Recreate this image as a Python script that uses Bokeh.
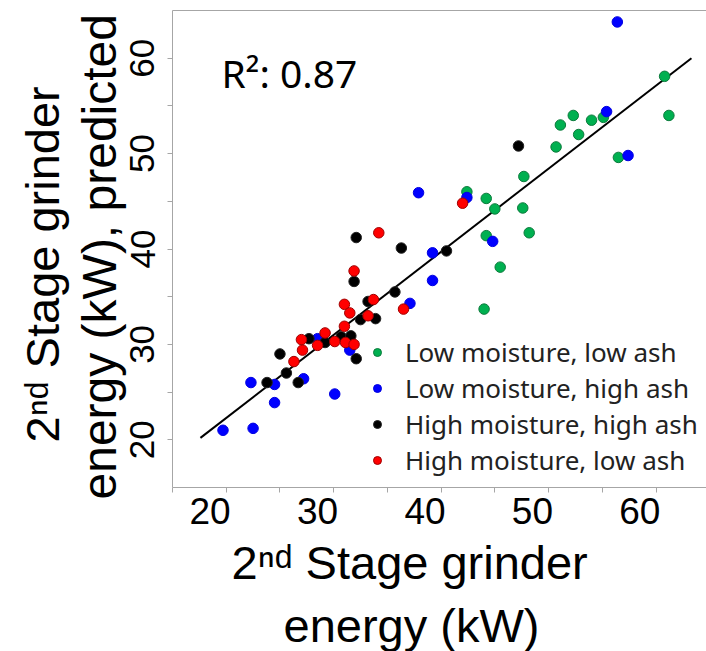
from bokeh.plotting import figure
from bokeh.models import (Range1d, LinearAxis, FixedTicker, Label, Legend, LegendItem, Title)
from bokeh.embed import file_html
from bokeh.resources import INLINE

# ---------------- data ----------------
green_x = [60.8, 61.2, 55.1, 54.0, 52.3, 51.1, 52.8, 50.7, 56.5, 47.7, 42.4, 44.2, 45.0, 47.6, 48.2, 44.2, 45.5, 44.0]
green_y = [58.1, 54.0, 53.8, 53.5, 54.0, 53.0, 52.0, 50.7, 49.6, 47.6, 46.0, 45.3, 44.2, 44.3, 41.7, 41.4, 38.1, 33.7]

blue_x = [56.4, 55.4, 57.4, 37.9, 42.4, 44.8, 39.2, 39.2, 37.1, 31.5, 28.5, 27.2, 22.3, 24.5, 30.1, 24.5, 19.7, 22.5]
blue_y = [63.8, 54.4, 49.8, 45.9, 45.4, 40.8, 39.6, 36.7, 34.3, 29.4, 30.6, 26.4, 26.0, 25.8, 24.8, 23.9, 21.0, 21.2]

black_x = [47.2, 32.1, 36.3, 40.5, 31.9, 35.7, 33.2, 32.5, 33.9, 30.7, 31.6, 29.2, 27.7, 32.1, 25.0, 25.6, 26.7, 23.8]
black_y = [50.8, 41.2, 40.1, 39.8, 36.6, 35.5, 34.5, 32.6, 32.7, 30.8, 30.9, 30.2, 30.6, 28.5, 29.0, 27.0, 26.0, 26.0]

red_x = [42.0, 34.2, 31.9, 33.7, 31.0, 31.5, 36.5, 33.2, 31.0, 29.2, 30.1, 31.1, 31.9, 28.5, 27.0, 27.1, 26.3]
red_y = [44.8, 41.7, 37.7, 34.7, 34.2, 33.3, 33.7, 33.0, 31.9, 31.2, 30.3, 30.2, 30.0, 29.9, 30.5, 29.4, 28.2]

fit_x = [17.6, 63.3]
fit_y = [20.2, 60.0]

series_labels = ["Low moisture, low ash", "Low moisture, high ash",
                 "High moisture, high ash", "High moisture, low ash"]
major_ticks = [20, 30, 40, 50, 60]
x_minor_ticks = [15, 25, 35, 45, 55]
y_minor_ticks = [25, 35, 45, 55]
r2_text = "R²: 0.87"
title_line1 = "2ⁿᵈ Stage grinder"
x_title_line2 = "energy (kW)"
y_title_line2 = "energy (kW), predicted"

# ---------------- figure ----------------
X0, X1 = 15, 64.7
Y0, Y1 = 15, 65
FRAME_L, FRAME_B = 172, 488

p = figure(width=706, height=651, x_range=Range1d(X0, X1), y_range=Range1d(Y0, Y1),
           output_backend="svg", toolbar_location=None,
           min_border_left=FRAME_L, min_border_right=0, min_border_top=10,
           min_border_bottom=651 - FRAME_B)
p.xgrid.visible = False
p.ygrid.visible = False
p.outline_line_color = None
p.background_fill_color = "white"
p.border_fill_color = "white"

AX = "#a6a6a6"
for ax in (p.xaxis[0], p.yaxis[0]):
    ax.axis_line_color = AX
    ax.major_tick_line_color = AX
    ax.minor_tick_line_color = AX
    ax.major_tick_out = 5
    ax.minor_tick_out = 5
    ax.major_tick_in = 0
    ax.minor_tick_in = 0

# bottom axis: tick marks only (all as unlabeled minor ticks); labels come from ax2
p.xaxis[0].ticker = FixedTicker(ticks=[], minor_ticks=sorted(major_ticks + x_minor_ticks))
p.xaxis[0].major_label_standoff = 0

p.yaxis[0].ticker = FixedTicker(ticks=major_ticks, minor_ticks=y_minor_ticks)
p.yaxis[0].major_label_orientation = "vertical"
p.yaxis[0].major_label_text_font = "Liberation Sans"
p.yaxis[0].major_label_text_font_size = "35px"
p.yaxis[0].major_label_text_color = "black"
p.yaxis[0].major_label_standoff = 13

# x tick labels sit slightly left of their ticks in the original
SHIFT = 1.5
p.extra_x_ranges = {"lab": Range1d(X0 + SHIFT, X1 + SHIFT)}
ax2 = LinearAxis(x_range_name="lab", ticker=FixedTicker(ticks=major_ticks),
                 axis_line_color=None, major_tick_line_color=None,
                 minor_tick_line_color=None, major_tick_out=0, major_tick_in=0,
                 major_label_standoff=5, major_label_text_font="Liberation Sans",
                 major_label_text_font_size="37px", major_label_text_color="black")
p.add_layout(ax2, "below")

top = LinearAxis(ticker=FixedTicker(ticks=[], minor_ticks=[]), axis_line_color=AX,
                 major_tick_line_color=None, minor_tick_line_color=None,
                 major_label_standoff=0, major_tick_out=0, major_tick_in=0)
p.add_layout(top, "above")

# ---------------- glyphs ----------------
p.line(fit_x, fit_y, line_color="black", line_width=2)
size = 10.5
rg = p.scatter(green_x, green_y, size=size, fill_color="#00b050", line_color="#0c7a3c", line_width=1)
rb = p.scatter(blue_x, blue_y, size=size, fill_color="#0000ff", line_color="#0000e0", line_width=1)
rk = p.scatter(black_x, black_y, size=size, fill_color="#000000", line_color="#222222", line_width=1)
rr = p.scatter(red_x, red_y, size=size, fill_color="#ff0000", line_color="#a00000", line_width=1)

legend = Legend(items=[LegendItem(label=series_labels[0], renderers=[rg]),
                       LegendItem(label=series_labels[1], renderers=[rb]),
                       LegendItem(label=series_labels[2], renderers=[rk]),
                       LegendItem(label=series_labels[3], renderers=[rr])],
                location=(195, 9), orientation="vertical",
                label_text_font="Noto Sans", label_text_font_size="26px",
                label_text_color="#222222", glyph_width=20, glyph_height=20,
                label_standoff=18, spacing=0, padding=0, margin=0,
                border_line_color=None, background_fill_alpha=0)
p.add_layout(legend)

p.add_layout(Label(x=221 - FRAME_L, y=FRAME_B - 73, x_units="screen", y_units="screen",
                   text=r2_text, text_font="Noto Sans", text_font_size="39px",
                   text_color="black", text_baseline="alphabetic"))

# ---------------- axis titles ----------------
TF = "Liberation Sans"
FS = "47px"


def title(text, offset, standoff=0, fs=FS):
    return Title(text=text, align="left", offset=offset, standoff=standoff,
                 text_font=TF, text_font_size=fs, text_font_style="normal",
                 text_color="black")


# below: stacked outward from the frame (offset measured from the frame's left edge)
p.add_layout(title(title_line1, 59, standoff=15), "below")
p.add_layout(title(x_title_line2, 111), "below")
# left: line 2 is closest to the frame (offset measured upward from the frame's bottom)
p.add_layout(title(y_title_line2, -12, standoff=4, fs="48px"), "left")
p.add_layout(title(title_line1, 45), "left")

open("out.html", "w").write(file_html(p, INLINE))
